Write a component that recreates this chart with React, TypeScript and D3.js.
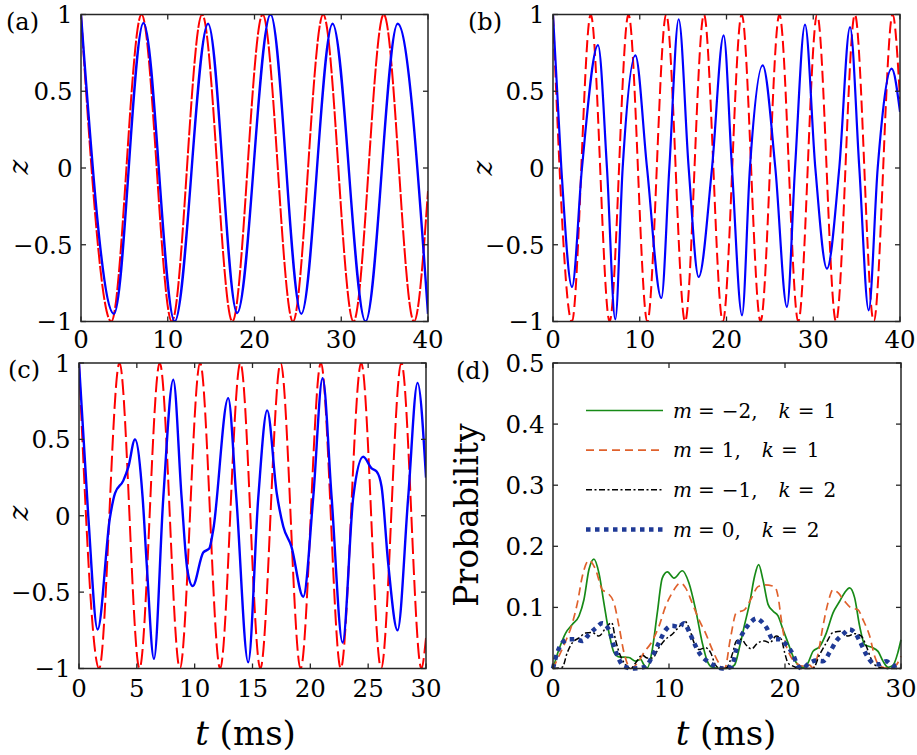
import React from "react";
import * as d3 from "d3";

const W = 917;
const H = 755;
const FONT = "'DejaVu Serif', serif";
const AXIS = "#262626";

// ---------- Panel (a) ----------
const aRedT = [0, 3.49, 6.98, 10.47, 13.96, 17.45, 20.94, 24.43, 27.92, 31.41, 34.9, 38.39, 40];
const aRedZ = [1, -1, 1, -1, 1, -1, 1, -1, 1, -1, 1, -1, -0.15];
const aBlueT = [0, 3.8, 7.2, 10.8, 14.65, 18.0, 21.85, 25.4, 29.0, 32.8, 36.5, 40];
const aBlueZ = [1, -0.95, 0.945, -1.0, 0.94, -0.945, 1.0, -0.95, 0.94, -1.0, 0.94, -0.95];

// ---------- Panel (b) ----------
const bRedT = [0, 2.175, 4.35, 6.525, 8.7, 10.875, 13.05, 15.225, 17.4, 19.575, 21.75, 23.925, 26.1, 28.275, 30.45, 32.625, 34.8, 36.975, 39.15, 40];
const bRedZ = [1, -1, 1, -1, 1, -1, 1, -1, 1, -1, 1, -1, 1, -1, 1, -1, 1, -1, 1, 0.45];
const bBlueT = [0, 0.96, 2.19, 3.34, 5.19, 6.22, 7.18, 8.03, 9.49, 10.84, 12.49, 13.41, 14.49, 15.64, 16.79, 18.33, 19.67, 20.63, 21.79, 22.7, 24.17, 25.63, 26.97, 27.9, 29.05, 30.24, 31.58, 33.0, 34.24, 35.31, 36.39, 37.43, 39.04, 40];
const bBlueZ = [1, 0, -0.775, 0, 0.8, 0, -0.986, 0, 0.734, 0, -0.847, 0, 0.969, 0, -0.71, 0, 0.864, 0, -0.96, 0, 0.669, 0, -0.905, 0, 0.934, 0, -0.656, 0, 0.918, 0, -0.927, 0, 0.647, 0.365];

// ---------- Panel (c) ----------
const cRedT = [0, 1.74, 3.5, 5.23, 6.98, 8.72, 10.47, 12.2, 13.95, 15.68, 17.43, 19.16, 20.91, 22.63, 24.4, 26.12, 27.87, 29.6, 30];
const cRedZ = [1, -1, 1, -1, 1, -1, 1, -1, 1, -1, 1, -1, 1, -1, 1, -1, 1, -1, -0.8];
const cBlueT = [0, 0.8, 1.61, 2.68, 3.11, 3.83, 4.27, 4.84, 5.5, 5.85, 6.48, 7.29, 8.15, 8.87, 9.36, 9.83, 10.74, 11.26, 11.6, 12.9, 13.6, 14.63, 15.5, 16.27, 17.1, 17.66, 18.36, 19.39, 20.25, 21.06, 21.84, 22.79, 23.71, 24.57, 25.3, 25.73, 26.16, 26.73, 27.54, 28.46, 29.27, 30];
const cBlueZ = [1, 0.0, -0.745, -0.01, 0.146, 0.23, 0.32, 0.5, 0.12, -0.31, -0.937, 0.12, 0.89, 0.12, -0.35, -0.46, -0.24, -0.215, -0.095, 0.77, 0.12, -0.96, 0.12, 0.69, 0.146, -0.07, -0.2, -0.53, 0.12, 0.9, 0.12, -0.83, 0.12, 0.386, 0.31, 0.29, 0.19, -0.31, -0.75, 0.12, 0.87, 0.25];

// ---------- Panel (d) ----------
const dGreenT = [0, 0.51, 1.09, 1.66, 2.24, 2.67, 3.1, 3.53, 3.96, 4.39, 4.83, 5.26, 5.69, 6.55, 7.12, 7.55, 7.84, 8.13, 8.56, 8.99, 9.42, 9.86, 10.43, 11.15, 11.72, 12.3, 12.87, 13.3, 13.73, 14.6, 15.2, 15.66, 16.09, 16.52, 16.95, 17.38, 17.73, 18.1, 18.54, 18.96, 19.4, 19.82, 20.26, 20.69, 21.12, 21.55, 21.98, 22.41, 22.99, 23.56, 24.14, 24.71, 25.14, 25.57, 26.0, 26.44, 26.87, 27.44, 28.02, 28.45, 28.88, 29.3, 29.73, 30];
const dGreenP = [0, 0.031, 0.058, 0.072, 0.086, 0.113, 0.162, 0.179, 0.156, 0.107, 0.058, 0.026, 0.019, 0.018, 0.012, 0.015, 0.006, 0.001, 0.031, 0.091, 0.148, 0.158, 0.148, 0.16, 0.14, 0.096, 0.042, 0.012, 0.002, 0, 0.001, 0.006, 0.036, 0.072, 0.107, 0.151, 0.17, 0.145, 0.105, 0.094, 0.086, 0.064, 0.042, 0.02, 0.006, 0.002, 0.009, 0.028, 0.036, 0.058, 0.091, 0.11, 0.124, 0.132, 0.116, 0.069, 0.039, 0.035, 0.028, 0.012, 0.002, 0.005, 0.026, 0.047];

const dOrangeT = [0, 0.5, 1.1, 1.6, 2.1, 2.53, 3.1, 3.67, 4.25, 4.68, 5.26, 5.69, 6.12, 6.7, 7.0, 7.4, 7.9, 8.4, 9.13, 9.71, 10.28, 11.0, 11.43, 12.0, 12.58, 13.15, 13.73, 14.3, 14.8, 15.3, 15.8, 16.5, 17.1, 17.67, 18.25, 19.11, 19.4, 19.68, 19.97, 20.4, 20.97, 21.55, 22.1, 22.4, 22.84, 23.27, 23.7, 24.14, 24.57, 25.14, 25.71, 26.29, 26.72, 27.3, 27.73, 28.16, 29.0, 29.6, 30];
const dOrangeP = [0, 0.02, 0.045, 0.07, 0.107, 0.151, 0.177, 0.162, 0.129, 0.124, 0.107, 0.069, 0.026, 0.0, 0.003, 0.012, 0.028, 0.04, 0.069, 0.102, 0.124, 0.14, 0.132, 0.107, 0.08, 0.058, 0.031, 0.009, 0.0, 0.05, 0.091, 0.096, 0.115, 0.134, 0.137, 0.134, 0.118, 0.08, 0.047, 0.023, 0.009, 0.004, 0.006, 0.001, 0.023, 0.069, 0.107, 0.129, 0.124, 0.11, 0.099, 0.096, 0.08, 0.053, 0.02, 0.004, 0.0, 0.006, 0.02];

const dBlackT = [0, 0.8, 1.23, 1.66, 2.24, 2.81, 3.39, 3.96, 4.54, 5.06, 5.4, 5.83, 6.26, 6.7, 7.12, 7.7, 8.13, 8.56, 9.13, 9.71, 10.28, 10.86, 11.38, 11.78, 12.16, 12.58, 13.15, 13.59, 14.0, 14.45, 14.94, 15.5, 15.8, 16.23, 16.67, 17.1, 17.67, 18.25, 18.68, 19.25, 19.68, 19.97, 20.26, 20.69, 21.4, 22.4, 22.99, 23.56, 24.14, 24.85, 25.43, 26.0, 26.58, 27.0, 27.44, 27.87, 28.74, 30];
const dBlackP = [0, 0.002, 0.026, 0.042, 0.05, 0.058, 0.059, 0.053, 0.066, 0.075, 0.046, 0.02, 0.006, 0, 0.009, 0.022, 0.017, 0.017, 0.034, 0.048, 0.056, 0.068, 0.077, 0.064, 0.042, 0.031, 0.034, 0.026, 0.006, 0, 0.001, 0.026, 0.045, 0.048, 0.038, 0.032, 0.042, 0.045, 0.042, 0.053, 0.048, 0.026, 0.009, 0.004, 0, 0, 0.023, 0.042, 0.059, 0.061, 0.053, 0.057, 0.053, 0.037, 0.015, 0.004, 0, 0];

const dBlueT = [0, 0.37, 0.8, 1.38, 1.95, 2.53, 3.1, 3.67, 4.25, 4.83, 5.26, 5.69, 6.12, 7.0, 7.98, 8.56, 9.13, 9.71, 10.28, 10.86, 11.29, 11.72, 12.16, 12.73, 13.3, 13.88, 14.6, 15.4, 15.8, 16.23, 16.67, 17.1, 17.53, 17.96, 18.4, 18.96, 19.54, 20.11, 20.69, 21.12, 21.5, 22.1, 22.7, 23.27, 23.84, 24.42, 25.0, 25.57, 26.0, 26.44, 27.0, 27.59, 28.16, 28.74, 29.3, 29.9];
const dBlueP = [0, 0.026, 0.042, 0.048, 0.048, 0.045, 0.056, 0.066, 0.074, 0.063, 0.036, 0.015, 0.003, 0, 0.003, 0.02, 0.042, 0.063, 0.07, 0.068, 0.074, 0.061, 0.042, 0.022, 0.012, 0.005, 0, 0.003, 0.031, 0.053, 0.067, 0.077, 0.082, 0.077, 0.067, 0.048, 0.048, 0.039, 0.023, 0.004, 0, 0.009, 0.013, 0.012, 0.026, 0.045, 0.056, 0.064, 0.059, 0.045, 0.023, 0.009, 0.007, 0.012, 0.004, 0.009];

// Ticks
const zTicks = [-1, -0.5, 0, 0.5, 1];
const t40Ticks = [0, 10, 20, 30, 40];
const t30Ticks5 = [0, 5, 10, 15, 20, 25, 30];
const t30Ticks10 = [0, 10, 20, 30];
const pTicks = [0, 0.1, 0.2, 0.3, 0.4, 0.5];

// Legend
const legendM = ["\u22122", "1", "\u22121", "0"];
const legendK = ["1", "1", "2", "2"];

const RED = "#ff0000";
const BLUE = "#0000ff";
const GREEN = "#178a17";
const ORANGE = "#e0612c";
const BLACK = "#000000";
const NAVY = "#1f3a96";

type Box = { x0: number; x1: number; y0: number; y1: number };
type Series = { t: number[]; v: number[]; stroke: string; width: number; dash?: string; cap?: string };

const fmt = (v: number) => {
  const s = d3.format("")(v);
  return s.replace("-", "\u2212");
};

function Panel(props: {
  id: string;
  box: Box;
  xDomain: [number, number];
  yDomain: [number, number];
  xTicks: number[];
  yTicks: number[];
  series: Series[];
  xLabelBase: number;
  clipPad?: number;
}) {
  const { id, box, xDomain, yDomain, xTicks, yTicks, series, xLabelBase } = props;
  const pad = props.clipPad ?? 0;
  const x = d3.scaleLinear().domain(xDomain).range([box.x0, box.x1]);
  const y = d3.scaleLinear().domain(yDomain).range([box.y1, box.y0]);
  const line = d3
    .line<[number, number]>()
    .x((d) => x(d[0]))
    .y((d) => y(d[1]))
    .curve(d3.curveMonotoneX);
  const TL = 5;
  return (
    <g>
      <defs>
        <clipPath id={"clip-" + id}>
          <rect x={box.x0 - pad} y={box.y0 - pad} width={box.x1 - box.x0 + 2 * pad} height={box.y1 - box.y0 + 2 * pad} />
        </clipPath>
      </defs>
      <g clipPath={`url(#clip-${id})`}>
        {series.map((s, i) => (
          <path
            key={i}
            d={line(d3.zip(s.t, s.v) as [number, number][]) || ""}
            fill="none"
            stroke={s.stroke}
            strokeWidth={s.width}
            strokeDasharray={s.dash}
            strokeLinecap={(s.cap as any) || "butt"}
            strokeLinejoin="round"
          />
        ))}
      </g>
      <rect x={box.x0} y={box.y0} width={box.x1 - box.x0} height={box.y1 - box.y0} fill="none" stroke={AXIS} strokeWidth={1.5} />
      {xTicks.map((t) => (
        <g key={"xt" + t}>
          <line x1={x(t)} x2={x(t)} y1={box.y1} y2={box.y1 - TL} stroke={AXIS} strokeWidth={1.3} />
          <line x1={x(t)} x2={x(t)} y1={box.y0} y2={box.y0 + TL} stroke={AXIS} strokeWidth={1.3} />
          <text x={x(t)} y={xLabelBase} textAnchor="middle" fontFamily={FONT} fontSize={24.5} fill="#000">
            {fmt(t)}
          </text>
        </g>
      ))}
      {yTicks.map((v) => (
        <g key={"yt" + v}>
          <line x1={box.x0} x2={box.x0 + TL} y1={y(v)} y2={y(v)} stroke={AXIS} strokeWidth={1.3} />
          <line x1={box.x1} x2={box.x1 - TL} y1={y(v)} y2={y(v)} stroke={AXIS} strokeWidth={1.3} />
          <text x={box.x0 - 8.5} y={y(v)} dy="0.36em" textAnchor="end" fontFamily={FONT} fontSize={24.5} fill="#000">
            {fmt(v)}
          </text>
        </g>
      ))}
    </g>
  );
}

export default function App() {
  const A: Box = { x0: 81, x1: 428, y0: 14.5, y1: 321.5 };
  const B: Box = { x0: 553, x1: 900, y0: 14.5, y1: 321.5 };
  const C: Box = { x0: 79, x1: 426, y0: 363, y1: 668.5 };
  const D: Box = { x0: 553, x1: 901, y0: 363, y1: 668.5 };

  const blackDash = "6,2.5,2,2.5";
  const legendStyles = [
    { stroke: GREEN, width: 1.7, dash: undefined as string | undefined },
    { stroke: ORANGE, width: 1.7, dash: "8,5" },
    { stroke: BLACK, width: 1.5, dash: blackDash },
    { stroke: NAVY, width: 4.5, dash: "4.5,4.5" },
  ];
  const legendY = d3.scaleLinear().domain([0, 3]).range([410.5, 529.5]);

  const label = (txt: string, x: number, y: number) => (
    <text x={x} y={y} fontFamily={FONT} fontSize={24} fill="#000">
      {txt}
    </text>
  );
  const zLabel = (x: number, y: number) => (
    <text transform={`translate(${x},${y}) rotate(-90)`} textAnchor="middle" fontFamily={FONT} fontStyle="italic" fontSize={28} fill="#000">
      z
    </text>
  );
  const tLabel = (cx: number) => (
    <text x={cx} y={745} textAnchor="middle" fontFamily={FONT} fontSize={34} fill="#000" style={{ whiteSpace: "pre" }}>
      <tspan fontStyle="italic">t</tspan>
      <tspan>{" (ms)"}</tspan>
    </text>
  );

  return (
    <svg width={W} height={H} viewBox={`0 0 ${W} ${H}`} style={{ position: "absolute", left: 0, top: 0, background: "#fff" }}>
      <rect x={0} y={0} width={W} height={H} fill="#fff" />
      <Panel
        id="a"
        box={A}
        xDomain={[0, 40]}
        yDomain={[-1, 1]}
        xTicks={t40Ticks}
        yTicks={zTicks}
        xLabelBase={348}
        series={[
          { t: aRedT, v: aRedZ, stroke: RED, width: 2, dash: "16,2" },
          { t: aBlueT, v: aBlueZ, stroke: BLUE, width: 2.4 },
        ]}
      />
      <Panel
        id="b"
        box={B}
        xDomain={[0, 40]}
        yDomain={[-1, 1]}
        xTicks={t40Ticks}
        yTicks={zTicks}
        xLabelBase={348}
        series={[
          { t: bRedT, v: bRedZ, stroke: RED, width: 2, dash: "12,5" },
          { t: bBlueT, v: bBlueZ, stroke: BLUE, width: 2.2 },
        ]}
      />
      <Panel
        id="c"
        box={C}
        xDomain={[0, 30]}
        yDomain={[-1, 1]}
        xTicks={t30Ticks5}
        yTicks={zTicks}
        xLabelBase={697}
        series={[
          { t: cRedT, v: cRedZ, stroke: RED, width: 2, dash: "16,5" },
          { t: cBlueT, v: cBlueZ, stroke: BLUE, width: 2.4 },
        ]}
      />
      <Panel
        id="d"
        box={D}
        xDomain={[0, 30]}
        yDomain={[0, 0.5]}
        xTicks={t30Ticks10}
        yTicks={pTicks}
        xLabelBase={697}
        clipPad={3}
        series={[
          { t: dGreenT, v: dGreenP, stroke: GREEN, width: 1.7 },
          { t: dOrangeT, v: dOrangeP, stroke: ORANGE, width: 1.7, dash: "8,5" },
          { t: dBlackT, v: dBlackP, stroke: BLACK, width: 1.5, dash: blackDash },
          { t: dBlueT, v: dBlueP, stroke: NAVY, width: 4.5, dash: "4.5,4.5" },
        ]}
      />

      {/* legend */}
      {legendStyles.map((s, i) => (
        <g key={"lg" + i}>
          <line x1={586} x2={663} y1={legendY(i)} y2={legendY(i)} stroke={s.stroke} strokeWidth={s.width} strokeDasharray={s.dash} />
          <text x={673} y={legendY(i) + 7} fontFamily={FONT} fontSize={20} fill="#000">
            <tspan fontStyle="italic">m</tspan>
            <tspan dx={6}>=</tspan>
            <tspan dx={7}>{legendM[i] + ","}</tspan>
            <tspan dx={21} fontStyle="italic">k</tspan>
            <tspan dx={7}>=</tspan>
            <tspan dx={9}>{legendK[i]}</tspan>
          </text>
        </g>
      ))}

      {label("(a)", 6, 29.5)}
      {label("(b)", 468, 29.5)}
      {label("(c)", 8, 377.5)}
      {label("(d)", 456, 378.5)}

      {zLabel(28, 167)}
      {zLabel(492, 168)}
      {zLabel(28, 513)}
      <text transform="translate(478,515) rotate(-90)" textAnchor="middle" fontFamily={FONT} fontSize={33} fill="#000">
        Probability
      </text>
      {tLabel(245.5)}
      {tLabel(726)}
    </svg>
  );
}
